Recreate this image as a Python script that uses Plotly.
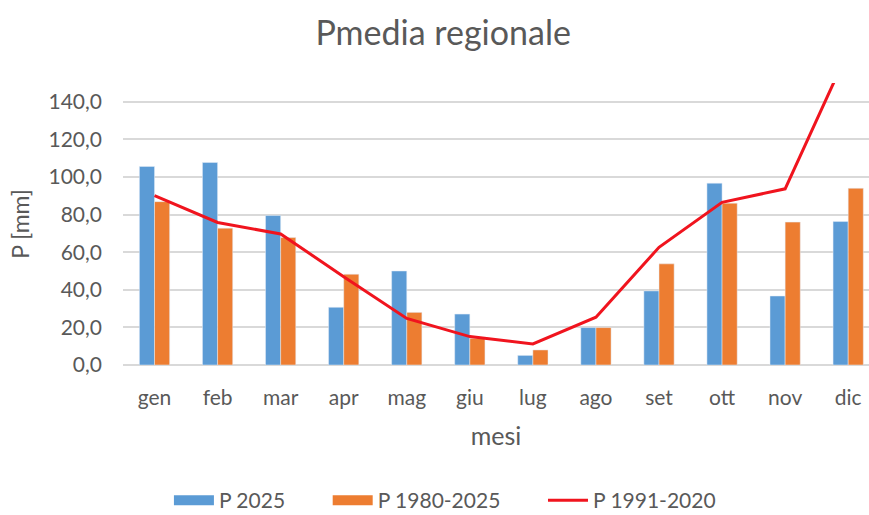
import plotly.graph_objects as go

mesi = ["gen", "feb", "mar", "apr", "mag", "giu", "lug", "ago", "set", "ott", "nov", "dic"]
p_2025 = [105.6, 107.7, 79.5, 30.7, 50.0, 27.1, 5.1, 19.9, 39.4, 96.7, 36.7, 76.3]
p_1980_2025 = [86.9, 72.8, 67.8, 48.3, 28.0, 14.2, 8.0, 19.9, 53.8, 86.1, 76.0, 94.0]
p_1991_2020 = [90.1, 75.8, 69.7, 47.0, 24.8, 15.1, 11.2, 25.4, 62.6, 86.5, 93.7, 167.0]
y_ticks = [0, 20, 40, 60, 80, 100, 120, 140]

BLUE = "#5B9BD5"
ORANGE = "#ED7D31"
RED = "#F0141E"
GREY = "#595959"
FONT = "Lato"
PAD = "\u00a0" * 7

fig = go.Figure()
fig.add_trace(go.Bar(x=mesi, y=p_2025, name="P 2025", marker_color=BLUE,
                     showlegend=False, legendgroup="a"))
fig.add_trace(go.Bar(x=mesi, y=p_1980_2025, name="P 1980-2025", marker_color=ORANGE,
                     showlegend=False, legendgroup="b"))
fig.add_trace(go.Scatter(x=mesi, y=p_1991_2020, name="P 1991-2020", mode="lines",
                         line=dict(color=RED, width=3), showlegend=False, legendgroup="c"))
# legend entries (wide rectangular swatches like the original)
fig.add_trace(go.Scatter(x=[None], y=[None], mode="lines", name="P 2025" + PAD,
                         line=dict(color=BLUE, width=10), legendgroup="a"))
fig.add_trace(go.Scatter(x=[None], y=[None], mode="lines", name="P 1980-2025" + PAD,
                         line=dict(color=ORANGE, width=10), legendgroup="b"))
fig.add_trace(go.Scatter(x=[None], y=[None], mode="lines", name="P 1991-2020",
                         line=dict(color=RED, width=3), legendgroup="c"))

fig.update_layout(
    width=869, height=515,
    margin=dict(l=123, r=0, t=83, b=150),
    paper_bgcolor="white", plot_bgcolor="white",
    separators=", ",
    barmode="group", bargap=0.52, bargroupgap=0,
    font=dict(family=FONT, color=GREY, size=21),
    title=dict(text="Pmedia regionale", x=0.51, xref="container", y=0.935,
               yref="container", yanchor="middle",
               font=dict(size=34, color=GREY, family=FONT)),
    legend=dict(orientation="h", x=0.512, xref="container", xanchor="center",
                y=0.028, yref="container", yanchor="middle",
                font=dict(size=21, color=GREY), itemwidth=40, tracegroupgap=0),
    xaxis=dict(range=[-0.5, 11.33], showgrid=False, showline=False, ticks="",
               tickfont=dict(size=21, color=GREY), ticklabelstandoff=18,
               title=dict(text="mesi", font=dict(size=25, color=GREY), standoff=19)),
    yaxis=dict(range=[0, 150], tickvals=y_ticks, tickformat=".1f",
               showgrid=True, gridcolor="#D9D9D9", gridwidth=1.5,
               zeroline=True, zerolinecolor="#D9D9D9", zerolinewidth=1.5,
               tickfont=dict(size=21, color=GREY), ticklabelstandoff=20,
               title=dict(text="P [mm]", font=dict(size=23, color=GREY), standoff=12)),
)

fig.write_html("out.html", config={"displayModeBar": False},
               post_script="document.body.style.margin='0px';")
